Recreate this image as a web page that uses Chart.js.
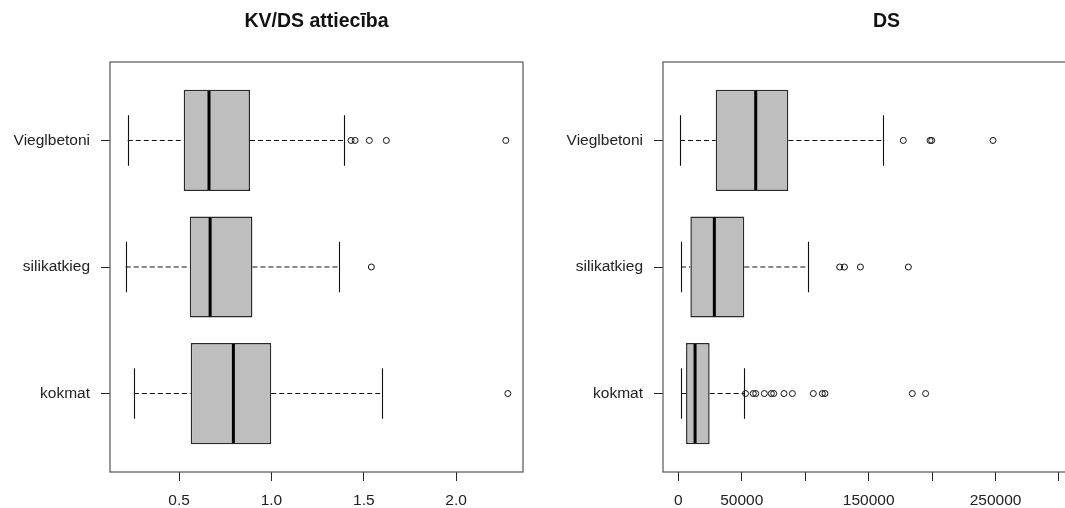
<!DOCTYPE html>
<html>
<head>
<meta charset="utf-8">
<script src="https://cdn.jsdelivr.net/npm/chart.js@4"></script>
<style>
  html, body { margin: 0; padding: 0; background: #fff; overflow: hidden; width: 1065px; height: 508px; }
  .panel { position: absolute; top: 0; }
</style>
</head>
<body>
<div class="panel" style="left:0"><canvas id="ratioChart" width="540" height="508"></canvas></div>
<div class="panel" style="left:540px"><canvas id="dsChart" width="590" height="508"></canvas></div>
<script>
// categories, bottom to top (y = 1, 2, 3)
const categories = ["kokmat", "silikatkieg", "Vieglbetoni"];

// KV/DS attieciba
const ratioLow = [0.255, 0.211, 0.222];
const ratioQ1 = [0.563, 0.558, 0.525];
const ratioMed = [0.794, 0.668, 0.662];
const ratioQ3 = [0.999, 0.897, 0.884];
const ratioHigh = [1.601, 1.365, 1.393];
const ratioOutliers = [[2.28], [1.541], [1.431, 1.453, 1.53, 1.622, 2.269]];
const ratioTicks = [0.5, 1.0, 1.5, 2.0];

// DS
const dsLow = [2100, 2100, 1300];
const dsQ1 = [6100, 9500, 29500];
const dsMed = [13200, 28400, 61000];
const dsQ3 = [24700, 52000, 86700];
const dsHigh = [52000, 102500, 161300];
const dsOutliers = [
  [53000, 59100, 61000, 67800, 73300, 75200, 83300, 89900, 106400, 113500, 115600, 184400, 194900],
  [127200, 130900, 143500, 181300],
  [177300, 198400, 199700, 248000],
];
const dsTicks = [0, 50000, 100000, 150000, 200000, 250000, 300000];
const dsTickLabels = ["0", "50000", "", "150000", "", "250000", ""];

Chart.defaults.font.family = '"Liberation Sans", Arial, sans-serif';
Chart.defaults.color = "#222";

function boxParts(title, low, med, high, q1, q3) {
  return {
    id: "boxParts",
    afterDatasetsDraw(chart) {
      const { ctx } = chart;
      const x = chart.scales.x;
      const y = chart.scales.y;
      ctx.save();
      ctx.strokeStyle = "#111";
      low.forEach(function (lo, i) {
        const yc = y.getPixelForValue(i + 1);
        const cap = Math.abs(y.getPixelForValue(i + 1.2) - yc);
        const half = Math.abs(y.getPixelForValue(i + 1.4) - yc);
        // dashed whiskers
        ctx.lineWidth = 1.1;
        ctx.setLineDash([5, 3]);
        ctx.beginPath();
        ctx.moveTo(x.getPixelForValue(lo), yc);
        ctx.lineTo(x.getPixelForValue(q1[i]), yc);
        ctx.moveTo(x.getPixelForValue(q3[i]), yc);
        ctx.lineTo(x.getPixelForValue(high[i]), yc);
        ctx.stroke();
        // staples
        ctx.setLineDash([]);
        ctx.beginPath();
        [lo, high[i]].forEach(function (v) {
          const px = Math.round(x.getPixelForValue(v)) + 0.5;
          ctx.moveTo(px, yc - cap);
          ctx.lineTo(px, yc + cap);
        });
        ctx.stroke();
        // median
        ctx.lineWidth = 3;
        ctx.strokeStyle = "#000";
        ctx.beginPath();
        const mx = x.getPixelForValue(med[i]);
        ctx.moveTo(mx, yc - half + 1);
        ctx.lineTo(mx, yc + half - 1);
        ctx.stroke();
        ctx.strokeStyle = "#111";
      });
      ctx.restore();
    },
    afterDraw(chart) {
      const a = chart.chartArea;
      const ctx = chart.ctx;
      ctx.save();
      ctx.strokeStyle = "#555";
      ctx.lineWidth = 1.2;
      ctx.strokeRect(a.left, a.top, a.right - a.left, a.bottom - a.top);
      // title centred over the plot frame
      ctx.fillStyle = "#111";
      ctx.font = 'bold 19.5px "Liberation Sans", Arial, sans-serif';
      ctx.textAlign = "center";
      ctx.textBaseline = "middle";
      ctx.fillText(title, (a.left + a.right) / 2, 22);
      ctx.restore();
    },
  };
}

function makeChart(id, title, low, q1, med, q3, high, outliers, xMin, xMax, ticks, tickLabel, yWidth, padRight) {
  const boxes = categories.map(function (c, i) {
    return { x: [q1[i], q3[i]], y: i + 1 };
  });
  const points = [];
  outliers.forEach(function (list, i) {
    list.forEach(function (v) {
      points.push({ x: v, y: i + 1 });
    });
  });

  return new Chart(document.getElementById(id).getContext("2d"), {
    type: "bar",
    data: {
      datasets: [
        {
          type: "bar",
          data: boxes,
          backgroundColor: "#bebebe",
          borderColor: "#2a2a2a",
          borderWidth: 1.5,
          borderSkipped: false,
          barPercentage: 0.8,
          categoryPercentage: 1.0,
        },
        {
          type: "scatter",
          data: points,
          pointStyle: "circle",
          pointRadius: 3,
          pointBorderWidth: 1,
          pointBorderColor: "#111",
          pointBackgroundColor: "rgba(255,255,255,0)",
        },
      ],
    },
    options: {
      responsive: false,
      animation: false,
      indexAxis: "y",
      layout: { padding: { left: 0, right: padRight, top: 62, bottom: 0 } },
      plugins: {
        legend: { display: false },
        tooltip: { enabled: false },
        title: { display: false },
      },
      scales: {
        x: {
          type: "linear",
          min: xMin,
          max: xMax,
          afterBuildTicks: function (scale) {
            scale.ticks = ticks.map(function (v) { return { value: v }; });
          },
          afterFit: function (scale) { scale.height = 36; },
          grid: { drawOnChartArea: false, drawTicks: true, tickLength: 9, color: "#222", offset: false },
          border: { display: false },
          ticks: {
            autoSkip: false,
            maxRotation: 0,
            padding: 10,
            font: { size: 15.5 },
            callback: tickLabel,
          },
        },
        y: {
          type: "linear",
          min: 0.38,
          max: 3.62,
          offset: false,
          afterBuildTicks: function (scale) {
            scale.ticks = categories.map(function (c, i) { return { value: i + 1 }; });
          },
          afterFit: function (scale) { scale.width = yWidth; },
          grid: { drawOnChartArea: false, drawTicks: true, tickLength: 9, color: "#222", offset: false },
          border: { display: false },
          ticks: {
            autoSkip: false,
            padding: 11,
            font: { size: 15.5 },
            callback: function (value) { return categories[value - 1]; },
          },
        },
      },
    },
    plugins: [boxParts(title, low, med, high, q1, q3)],
  });
}

document.addEventListener("DOMContentLoaded", function () {
  // KV/DS attieciba
  makeChart("ratioChart", "KV/DS attiecība",
    ratioLow, ratioQ1, ratioMed, ratioQ3, ratioHigh, ratioOutliers,
    0.126, 2.362, ratioTicks,
    function (value) { return value.toFixed(1); },
    110, 17);

  // DS
  makeChart("dsChart", "DS",
    dsLow, dsQ1, dsMed, dsQ3, dsHigh, dsOutliers,
    -12060, 340200, dsTicks,
    function (value) { return dsTickLabels[dsTicks.indexOf(value)]; },
    123, 20);
});
</script>
</body>
</html>
